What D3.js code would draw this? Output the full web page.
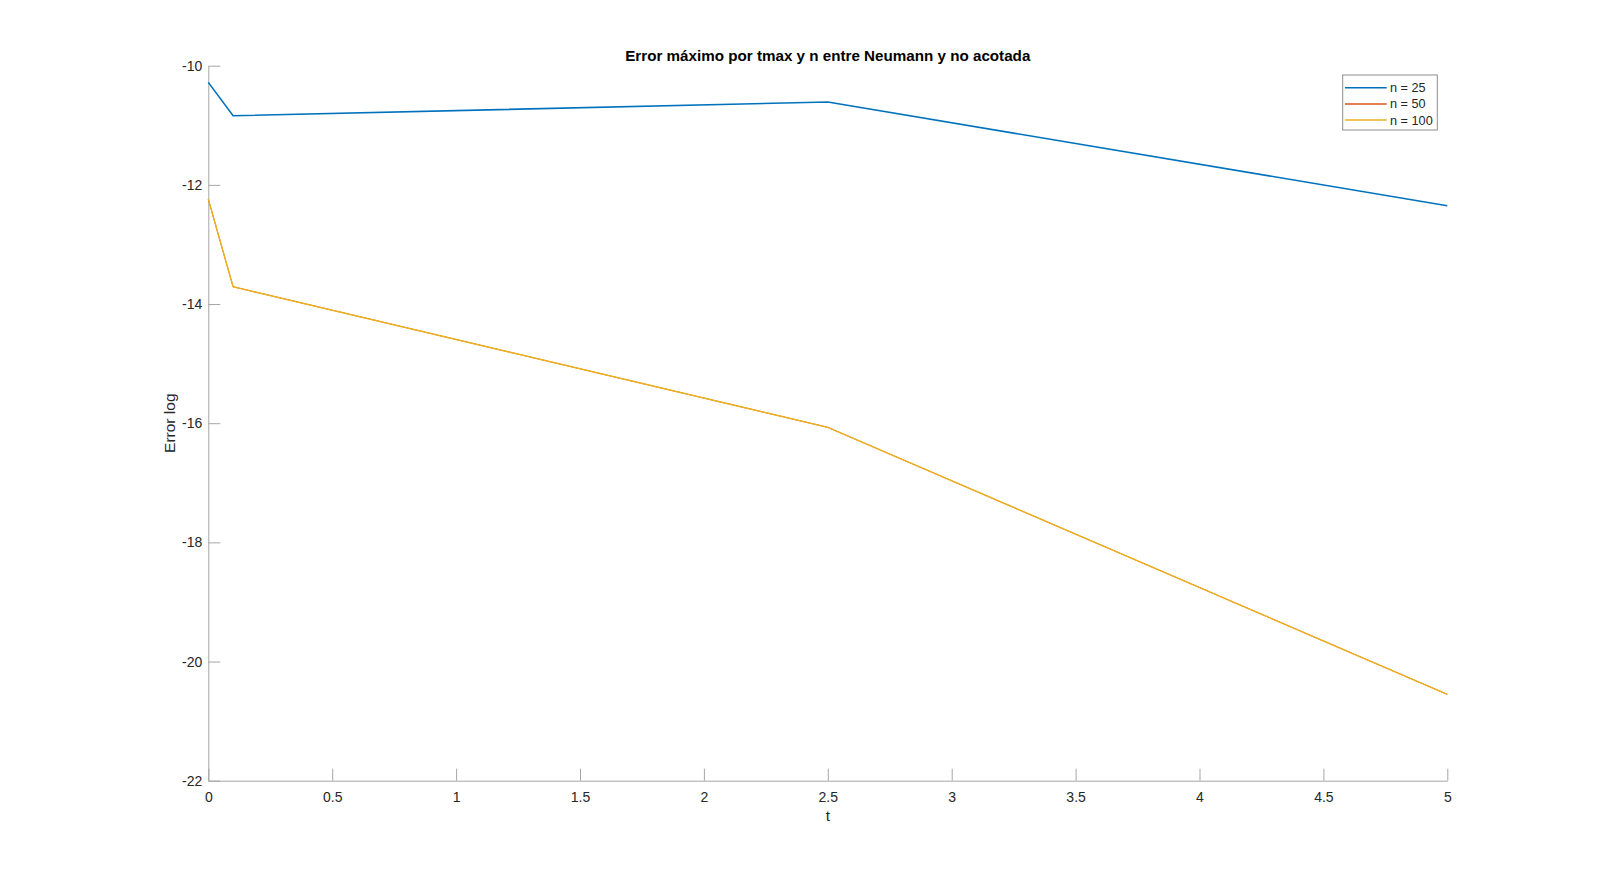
<!DOCTYPE html>
<html>
<head>
<meta charset="utf-8">
<script src="https://d3js.org/d3.v7.min.js"></script>
<style>
  body { margin: 0; background: #fff; }
  svg { font-family: "Liberation Sans", Arial, Helvetica, sans-serif; }
  .tick text { fill: #262626; font-size: 14px; }
</style>
</head>
<body>
<svg width="1600" height="878" id="chart"></svg>
<script>
  // data
  var tValues = [0, 0.1, 2.5, 5]
  var err25  = [-10.28, -10.84, -10.61, -12.35]
  var err50  = [-12.24, -13.71, -16.07, -20.55]
  var err100 = [-12.24, -13.71, -16.07, -20.55]
  var seriesNames = ['n = 25', 'n = 50', 'n = 100']
  var colors = ['#0072BD', '#D95319', '#EDB120']
  var xTicks = [0, 0.5, 1, 1.5, 2, 2.5, 3, 3.5, 4, 4.5, 5]
  var yTicks = [-22, -20, -18, -16, -14, -12, -10]

  var svg = d3.select('#chart')
  // plot box edges (note: "top" is reserved on window, so use other names)
  var plotLeft = 208.3, plotRight = 1447.3, plotTop = 65.7, plotBottom = 780.7
  var axisColor = '#a6a6a6'

  var x = d3.scaleLinear().domain([0, 5]).range([plotLeft, plotRight])
  var y = d3.scaleLinear().domain([-22, -10]).range([plotBottom, plotTop])

  // x axis, ticks pointing inward like matlab
  var xAxis = svg.append('g')
    .attr('transform', 'translate(0,' + plotBottom + ')')
    .call(d3.axisBottom(x).tickValues(xTicks).tickSizeInner(-12).tickSizeOuter(0)
      .tickPadding(10).tickFormat(d3.format('')))
  xAxis.select('.domain').attr('stroke', axisColor)
  xAxis.selectAll('.tick line').attr('stroke', axisColor)
  xAxis.selectAll('.tick text').attr('dy', '0.8em')

  var yAxis = svg.append('g')
    .attr('transform', 'translate(' + plotLeft + ',0)')
    .call(d3.axisLeft(y).tickValues(yTicks).tickSizeInner(-12).tickSizeOuter(0)
      .tickPadding(6).tickFormat(d3.format('')))
  yAxis.select('.domain').attr('stroke', axisColor)
  yAxis.selectAll('.tick line').attr('stroke', axisColor)
  yAxis.selectAll('.tick text').text(function(d) { return d < 0 ? '-' + Math.abs(d) : d })

  // lines; n = 50 sits exactly under n = 100, so keep it a bit thinner
  var series = [err25, err50, err100]
  var widths = [1.6, 1.0, 1.4]
  var line = d3.line()
    .x(function(d, i) { return x(tValues[i]) })
    .y(function(d) { return y(d) })

  series.forEach(function(s, k) {
    svg.append('path')
      .attr('d', line(s))
      .attr('fill', 'none')
      .attr('stroke', colors[k])
      .attr('stroke-width', widths[k])
  })

  // title and labels
  svg.append('text')
    .attr('x', (plotLeft + plotRight) / 2)
    .attr('y', 60.5)
    .attr('text-anchor', 'middle')
    .attr('font-weight', 'bold')
    .attr('font-size', 15.2)
    .attr('fill', '#000')
    .text('Error máximo por tmax y n entre Neumann y no acotada')

  svg.append('text')
    .attr('x', (plotLeft + plotRight) / 2)
    .attr('y', 821)
    .attr('text-anchor', 'middle')
    .attr('font-size', 15.5)
    .attr('fill', '#262626')
    .text('t')

  svg.append('text')
    .attr('transform', 'translate(175,' + (plotTop + plotBottom) / 2 + ')rotate(-90)')
    .attr('text-anchor', 'middle')
    .attr('font-size', 15.5)
    .attr('fill', '#262626')
    .text('Error log')

  // legend
  var legend = svg.append('g')
  legend.append('rect')
    .attr('x', 1342.7).attr('y', 75)
    .attr('width', 94.6).attr('height', 55)
    .attr('fill', '#fff')
    .attr('stroke', '#8c8c8c')
    .attr('stroke-width', 1)
  seriesNames.forEach(function(name, k) {
    var ly = 87.7 + k * 16.2
    legend.append('line')
      .attr('x1', 1345).attr('x2', 1386.7)
      .attr('y1', ly).attr('y2', ly)
      .attr('stroke', colors[k])
      .attr('stroke-width', 1.5)
    legend.append('text')
      .attr('x', 1390).attr('y', ly)
      .attr('dy', '0.35em')
      .attr('font-size', 12.7)
      .attr('fill', '#262626')
      .text(name)
  })
</script>
</body>
</html>
